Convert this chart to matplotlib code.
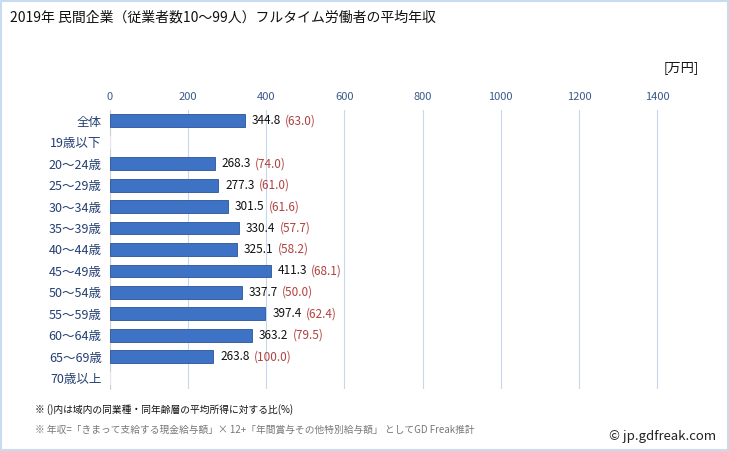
import matplotlib
matplotlib.use("Agg")
import matplotlib.pyplot as plt
from matplotlib.patches import Rectangle

plt.rcParams['font.family'] = ['Noto Sans CJK JP', 'DejaVu Sans']

categories = ["全体", "19歳以下", "20〜24歳", "25〜29歳", "30〜34歳", "35〜39歳", "40〜44歳",
              "45〜49歳", "50〜54歳", "55〜59歳", "60〜64歳", "65〜69歳", "70歳以上"]
values = [344.8, None, 268.3, 277.3, 301.5, 330.4, 325.1, 411.3, 337.7, 397.4, 363.2, 263.8, None]
ratios = [63.0, None, 74.0, 61.0, 61.6, 57.7, 58.2, 68.1, 50.0, 62.4, 79.5, 100.0, None]
xticks = [0, 200, 400, 600, 800, 1000, 1200, 1400]

title = "2019年 民間企業（従業者数10〜99人）フルタイム労働者の平均年収"
unit = "[万円]"
note1 = "※ ()内は域内の同業種・同年齢層の平均所得に対する比(%)"
note2 = "※ 年収=「きまって支給する現金給与額」× 12+「年間賞与その他特別給与額」 としてGD Freak推計"
credit = "© jp.gdfreak.com"

fig = plt.figure(figsize=(7.29, 4.51), dpi=100)
fig.patches.append(Rectangle((0.002, 0.002), 0.996, 0.996, transform=fig.transFigure,
                             fill=False, edgecolor="#c9dcef", linewidth=1.5))

ax = fig.add_axes([0.1509, 0.1375, 0.804, 0.6186])
ypos = list(range(len(categories)))
for y, v, r in zip(ypos, values, ratios):
    if v is None:
        ax.barh(y, 2, height=0.6, color="#e8e8e8", edgecolor="none", zorder=3)
        continue
    ax.barh(y, v, height=0.6, color="#3d72c4", edgecolor="#2a5498", linewidth=0.6, zorder=3)
    t = ax.annotate(f"{v:.1f}", xy=(v, y), xytext=(5, 0), textcoords="offset points",
                    va="center", ha="left", fontsize=8.5, color="#111111")
    ax.annotate(f"({r:.1f})", xy=(1, 0.5), xycoords=t, xytext=(3, 0), textcoords="offset points",
                va="center", ha="left", fontsize=8.5, color="#b0413e")

ax.set_xlim(0, 1500)
ax.set_ylim(len(categories) - 0.5, -0.5)
ax.set_xticks(xticks)
ax.set_xticklabels([str(x) for x in xticks])
ax.xaxis.tick_top()
ax.tick_params(axis="x", length=0, labelsize=8, labelcolor="#3a5a8a", pad=6)
ax.set_yticks(ypos)
ax.set_yticklabels(categories)
ax.tick_params(axis="y", length=0, labelsize=9, labelcolor="#243f73", pad=6)
ax.grid(axis="x", color="#c8d8ec", linewidth=0.8, zorder=0)
for s in ["top", "right", "bottom"]:
    ax.spines[s].set_visible(False)
ax.spines["left"].set_color("#d0d0d0")

fig.text(0.014, 0.962, title, fontsize=10, color="#111111", va="center", ha="left")
fig.text(0.958, 0.851, unit, fontsize=9.5, color="#111111", va="center", ha="right")
fig.text(0.048, 0.093, note1, fontsize=7, color="#111111", va="center", ha="left")
fig.text(0.048, 0.048, note2, fontsize=7, color="#777777", va="center", ha="left")
fig.text(0.982, 0.032, credit, fontsize=9.5, color="#222222", va="center", ha="right")

fig.savefig("out.png", dpi=100)
